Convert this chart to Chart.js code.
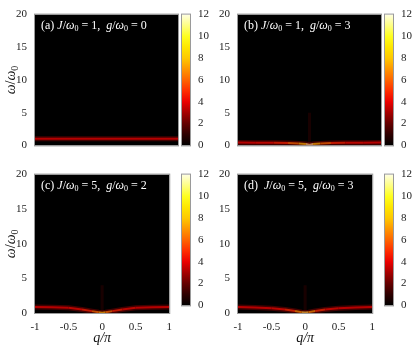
<!DOCTYPE html>
<html>
<head>
<meta charset="utf-8">
<script src="https://cdn.jsdelivr.net/npm/chart.js@4.4.0/dist/chart.umd.min.js"></script>
<style>
  body { margin: 0; background: #fff; }
  #wrap { position: relative; width: 415px; height: 347px; }
  #wrap canvas { position: absolute; }
</style>
</head>
<body>
<div id="wrap"></div>
<script>
// momentum grid (q/pi) shared by all panels
const qVals = [-1, -0.75, -0.5, -0.3, -0.15, -0.05, 0, 0.05, 0.15, 0.3, 0.5, 0.75, 1];

// band position (omega/omega0) and intensity for each panel
const bandA = [1, 1, 1, 1, 1, 1, 1, 1, 1, 1, 1, 1, 1];
const heatA = [4, 4, 4, 4, 4, 4, 4, 4, 4, 4, 4, 4, 4];
const bandB = [0.45, 0.42, 0.4, 0.35, 0.3, 0.2, 0.12, 0.2, 0.3, 0.35, 0.4, 0.42, 0.45];
const heatB = [4, 4, 4.5, 5.5, 8, 10.5, 12, 10.5, 8, 5.5, 4.5, 4, 4];
const bandC = [0.85, 0.82, 0.75, 0.5, 0.27, 0.1, 0.05, 0.1, 0.27, 0.5, 0.75, 0.82, 0.85];
const heatC = [4, 4, 4, 4.5, 5.5, 8.5, 10, 8.5, 5.5, 4.5, 4, 4, 4];
const bandD = [0.85, 0.8, 0.7, 0.5, 0.3, 0.12, 0.08, 0.12, 0.3, 0.5, 0.7, 0.8, 0.85];
const heatD = [4, 4, 4, 4.5, 6, 9.5, 11.5, 9.5, 6, 4.5, 4, 4, 4];

// faint vertical streak at q = 0 (top of streak, 0 = none)
const streakTop = { a: 0, b: 5, c: 4, d: 4 };

const yTicks = [0, 5, 10, 15, 20];
const xTicks = [-1, -0.5, 0, 0.5, 1];
const cbTicks = [0, 2, 4, 6, 8, 10, 12];

// panel labels: [text, style] with style n = normal, i = italic, s = subscript
const labels = {
  a: [['(a) ', 'n'], ['J', 'i'], ['/', 'n'], ['ω', 'i'], ['0', 's'], [' = 1,  ', 'n'], ['g', 'i'], ['/', 'n'], ['ω', 'i'], ['0', 's'], [' = 0', 'n']],
  b: [['(b) ', 'n'], ['J', 'i'], ['/', 'n'], ['ω', 'i'], ['0', 's'], [' = 1,  ', 'n'], ['g', 'i'], ['/', 'n'], ['ω', 'i'], ['0', 's'], [' = 3', 'n']],
  c: [['(c) ', 'n'], ['J', 'i'], ['/', 'n'], ['ω', 'i'], ['0', 's'], [' = 5,  ', 'n'], ['g', 'i'], ['/', 'n'], ['ω', 'i'], ['0', 's'], [' = 2', 'n']],
  d: [['(d)  ', 'n'], ['J', 'i'], ['/', 'n'], ['ω', 'i'], ['0', 's'], [' = 5,  ', 'n'], ['g', 'i'], ['/', 'n'], ['ω', 'i'], ['0', 's'], [' = 3', 'n']]
};

const serif = '"Liberation Serif", "DejaVu Serif", serif';

// colour map
const cmap = [
  [0, 0, 0, 0], [1, 45, 0, 0], [2, 100, 0, 0], [3, 165, 0, 0], [4, 235, 0, 0],
  [5, 255, 45, 0], [6, 255, 100, 0], [7, 255, 150, 0], [8, 255, 200, 0],
  [9, 255, 230, 0], [10, 255, 255, 30], [11, 255, 255, 130], [12, 255, 255, 225]
];
function heat(v) {
  v = Math.max(0, Math.min(12, v));
  for (let i = 1; i < cmap.length; i++) {
    if (v <= cmap[i][0]) {
      const a = cmap[i - 1], b = cmap[i], t = (v - a[0]) / (b[0] - a[0]);
      const c = [1, 2, 3].map(k => Math.round(a[k] + (b[k] - a[k]) * t));
      return 'rgb(' + c.join(',') + ')';
    }
  }
  return 'rgb(255,255,225)';
}

const wrap = document.getElementById('wrap');
function addCanvas(left, top, w, h) {
  const c = document.createElement('canvas');
  c.width = w; c.height = h;
  c.style.left = left + 'px'; c.style.top = top + 'px';
  c.style.width = w + 'px'; c.style.height = h + 'px';
  wrap.appendChild(c);
  return c;
}

function richText(ctx, parts, x, y, size, color) {
  ctx.fillStyle = color;
  ctx.textBaseline = 'alphabetic';
  parts.forEach(([s, st]) => {
    let yy = y;
    if (st === 's') { ctx.font = Math.round(size * 0.7) + 'px ' + serif; yy = y + size * 0.22; }
    else ctx.font = (st === 'i' ? 'italic ' : '') + size + 'px ' + serif;
    ctx.fillText(s, x, yy);
    x += ctx.measureText(s).width;
  });
}
function richWidth(ctx, parts, size) {
  let w = 0;
  parts.forEach(([s, st]) => {
    ctx.font = st === 's' ? Math.round(size * 0.7) + 'px ' + serif : (st === 'i' ? 'italic ' : '') + size + 'px ' + serif;
    w += ctx.measureText(s).width;
  });
  return w;
}

const frame = {
  id: 'frame',
  beforeDraw(chart) {
    const a = chart.chartArea, ctx = chart.ctx;
    if (chart.options.plugins.frame.black) {
      ctx.save();
      ctx.fillStyle = '#000';
      ctx.fillRect(a.left, a.top, a.right - a.left, a.bottom - a.top);
      ctx.restore();
    }
  },
  afterDraw(chart) {
    const a = chart.chartArea, ctx = chart.ctx, o = chart.options.plugins.frame;
    ctx.save();
    ctx.strokeStyle = '#9a9a9a';
    ctx.lineWidth = 1;
    ctx.strokeRect(a.left - 0.5, a.top - 0.5, a.right - a.left + 1, a.bottom - a.top + 1);
    if (o.label) richText(ctx, o.label, a.left + 6, a.top + 14, 12, '#fff');
    if (o.yTitle) {
      const parts = [['ω', 'i'], ['/', 'n'], ['ω', 'i'], ['0', 's']];
      const w = richWidth(ctx, parts, 14);
      ctx.translate(15, (a.top + a.bottom) / 2);
      ctx.rotate(-Math.PI / 2);
      richText(ctx, parts, -w / 2, 0, 14, '#111');
    }
    ctx.restore();
  }
};

function panel(key, left, top, h, band, hv, showX, showYTitle) {
  const cv = addCanvas(left, top, 180, h);
  const pts = qVals.map((q, i) => ({ x: q, y: band[i] }));
  const segCol = c => heat((hv[c.p0DataIndex] + hv[c.p1DataIndex]) / 2);
  const datasets = [
    { data: pts, borderColor: 'rgba(130,0,0,0.5)', borderWidth: 5, pointRadius: 0 },
    { data: pts, borderWidth: 2, pointRadius: 0, segment: { borderColor: segCol } }
  ];
  if (streakTop[key] > 0) {
    datasets.unshift({
      data: [{ x: 0, y: 0.3 }, { x: 0, y: streakTop[key] }],
      borderColor: 'rgba(110,0,0,0.22)', borderWidth: 3, pointRadius: 0
    });
  }
  new Chart(cv, {
    type: 'line',
    data: { datasets },
    options: {
      responsive: false, animation: false,
      layout: { padding: { top: 9, right: 2, left: 0, bottom: 0 } },
      plugins: { legend: { display: false }, tooltip: { enabled: false },
        frame: { black: true, label: labels[key], yTitle: showYTitle } },
      scales: {
        x: {
          type: 'linear', min: -1, max: 1,
          afterFit(s) { s.height = h - 153; },
          afterBuildTicks(s) { s.ticks = xTicks.map(v => ({ value: v })); },
          grid: { display: false, drawTicks: false },
          border: { display: false },
          ticks: { display: showX, color: '#222', padding: 8, maxRotation: 0,
            font: { family: serif, size: 11 }, callback: v => String(v) },
          title: { display: showX, text: 'q/π', color: '#111', padding: 0,
            font: { family: serif, size: 14, style: 'italic' } }
        },
        y: {
          min: 0, max: 20,
          afterFit(s) { s.width = 35; },
          afterBuildTicks(s) { s.ticks = yTicks.map(v => ({ value: v })); },
          grid: { display: false, drawTicks: false },
          border: { display: false },
          ticks: { color: '#222', padding: 8, font: { family: serif, size: 11 } }
        }
      }
    },
    plugins: [frame]
  });
}

function colorbar(left, top, w) {
  const cv = addCanvas(left, top, w, 160);
  new Chart(cv, {
    type: 'bar',
    data: {
      labels: [''],
      datasets: [{
        data: [[0, 12]],
        barPercentage: 1, categoryPercentage: 1,
        backgroundColor(c) {
          const a = c.chart.chartArea;
          if (!a) return '#000';
          const g = c.chart.ctx.createLinearGradient(0, a.bottom, 0, a.top);
          cmap.forEach(s => g.addColorStop(s[0] / 12, 'rgb(' + s[1] + ',' + s[2] + ',' + s[3] + ')'));
          return g;
        }
      }]
    },
    options: {
      responsive: false, animation: false,
      layout: { padding: { top: 9, bottom: 7, left: 2, right: 0 } },
      plugins: { legend: { display: false }, tooltip: { enabled: false }, frame: {} },
      scales: {
        x: { display: false },
        y: {
          position: 'right', min: 0, max: 12,
          afterFit(s) { s.width = w - 10; },
          afterBuildTicks(s) { s.ticks = cbTicks.map(v => ({ value: v })); },
          grid: { display: false, drawTicks: false }, border: { display: false },
          ticks: { color: '#222', padding: 8, font: { family: serif, size: 11 } }
        }
      }
    },
    plugins: [frame]
  });
}

panel('a', 0, 0, 160, bandA, heatA, false, true);
panel('b', 203, 0, 160, bandB, heatB, false, false);
panel('c', 0, 160, 187, bandC, heatC, true, true);
panel('d', 203, 160, 187, bandD, heatD, true, false);
colorbar(180, 0, 35);
colorbar(383, 0, 32);
colorbar(180, 160, 35);
colorbar(383, 160, 32);
</script>
</body>
</html>
